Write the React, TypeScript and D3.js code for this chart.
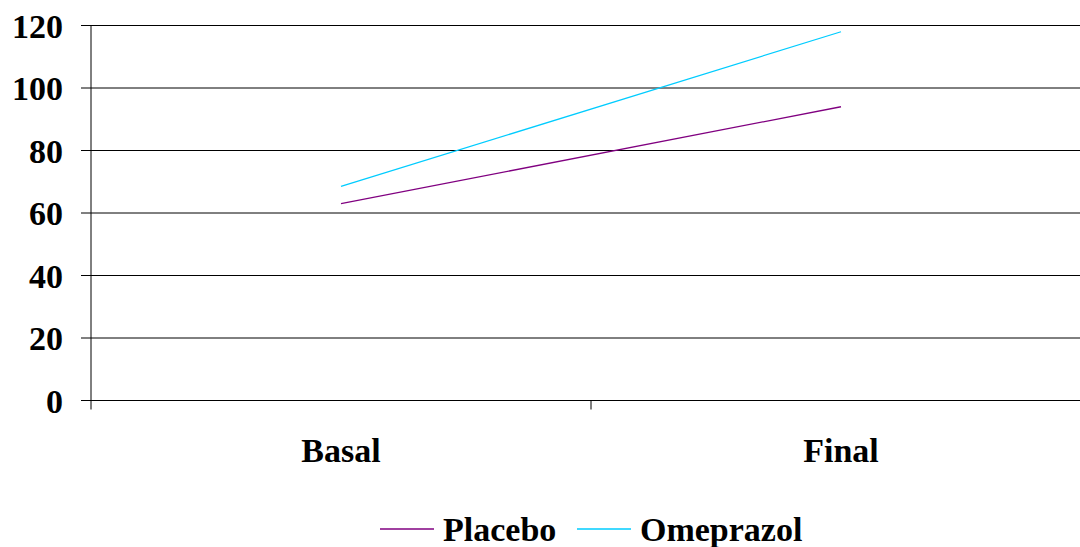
import React from "react";
import * as d3 from "d3";

const categories = ["Basal", "Final"];
const placebo = [63, 94];
const omeprazol = [68.5, 118];
const yTicks = [0, 20, 40, 60, 80, 100, 120];
const seriesNames = ["Placebo", "Omeprazol"];
const seriesColors = ["#800080", "#00CCFF"];

export default function App() {
  const W = 1080, H = 547;
  const x = d3.scaleBand<string>().domain(categories).range([91, 1091]);
  const y = d3.scaleLinear().domain([0, 120]).range([400.5, 25.5]);
  const line = d3.line<number>()
    .x((_, i) => (x(categories[i]) as number) + x.bandwidth() / 2)
    .y((d) => y(d));
  const series = [placebo, omeprazol];
  const font = "'Liberation Serif', 'Times New Roman', serif";
  const legendX = [380, 577];
  return (
    <svg width={W} height={H} style={{ position: "absolute", left: 0, top: 0 }} fontFamily={font}>
      <rect width={W} height={H} fill="#fff" />
      {yTicks.map((t) => (
        <g key={t}>
          <line x1={81} x2={W} y1={y(t)} y2={y(t)} stroke="#000" strokeWidth={1} />
          <text x={63} y={y(t) + 12} textAnchor="end" fontSize={34} fontWeight="bold">{t}</text>
        </g>
      ))}
      <line x1={91} x2={91} y1={y(120)} y2={y(0) + 9} stroke="#000" strokeWidth={1} />
      {categories.map((c, i) => (
        <g key={c}>
          {i > 0 && (
            <line x1={x(c)} x2={x(c)} y1={y(0)} y2={y(0) + 9} stroke="#000" strokeWidth={1} />
          )}
          <text x={(x(c) as number) + x.bandwidth() / 2} y={462} textAnchor="middle" fontSize={34} fontWeight="bold">{c}</text>
        </g>
      ))}
      {series.map((s, i) => (
        <path key={i} d={line(s) || ""} fill="none" stroke={seriesColors[i]} strokeWidth={1.3} />
      ))}
      {seriesNames.map((n, i) => (
        <g key={n}>
          <line x1={legendX[i]} x2={legendX[i] + 54} y1={529} y2={529} stroke={seriesColors[i]} strokeWidth={1.3} />
          <text x={legendX[i] + 63} y={541} fontSize={34} fontWeight="bold">{n}</text>
        </g>
      ))}
    </svg>
  );
}
